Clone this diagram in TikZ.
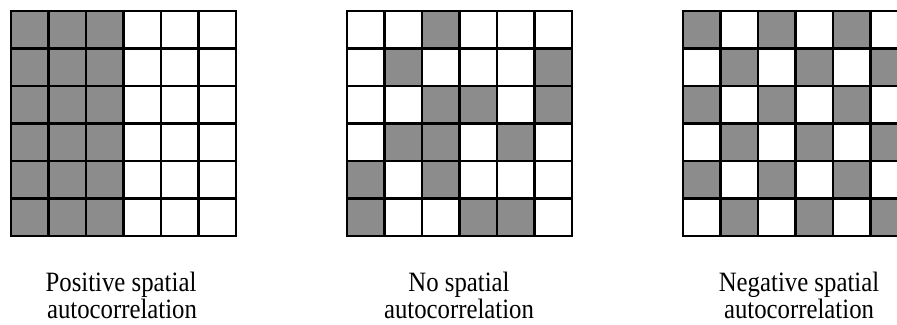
\documentclass[tikz,border=0pt]{standalone}
\usepackage{fontspec}
\setmainfont{Liberation Serif}
\definecolor{cellgray}{RGB}{140,140,140}
\begin{document}
\begin{tikzpicture}[x=1pt,y=-1pt,
  cellbox/.style={fill=cellgray},
  gridline/.style={line width=2.2pt, draw=black, line cap=rect},
  lbl/.style={anchor=base, font=\fontsize{28}{28}\selectfont, inner sep=0pt, xscale=0.885, transform shape}]
\path[use as bounding box, fill=white] (0,0) rectangle (897,324);
\clip (0,0) rectangle (897,324);
\def\cs{37.5}
% Grid 1: positive
\foreach \c in {0,1,2}{\foreach \r in {0,...,5}{
  \fill[cellbox] ({11+\c*\cs},{11+\r*\cs}) rectangle ++(\cs,\cs);}}
\foreach \i in {0,...,6}{
  \draw[gridline] ({11+\i*\cs},11) -- ({11+\i*\cs},236);
  \draw[gridline] (11,{11+\i*\cs}) -- (236,{11+\i*\cs});}
% Grid 2: none
\foreach \c/\r in {2/0,1/1,5/1,2/2,3/2,5/2,1/3,2/3,4/3,0/4,2/4,0/5,3/5,4/5}{
  \fill[cellbox] ({347+\c*\cs},{11+\r*\cs}) rectangle ++(\cs,\cs);}
\foreach \i in {0,...,6}{
  \draw[gridline] ({347+\i*\cs},11) -- ({347+\i*\cs},236);
  \draw[gridline] (347,{11+\i*\cs}) -- (572,{11+\i*\cs});}
% Grid 3: negative
\foreach \c in {0,...,5}{\foreach \r in {0,...,5}{
  \pgfmathparse{int(mod(\c+\r,2))}
  \ifnum\pgfmathresult=0
    \fill[cellbox] ({683+\c*\cs},{11+\r*\cs}) rectangle ++(\cs,\cs);
  \fi}}
\foreach \i in {0,...,6}{
  \draw[gridline] ({683+\i*\cs},11) -- ({683+\i*\cs},236);
  \draw[gridline] (683,{11+\i*\cs}) -- (908,{11+\i*\cs});}
% Labels
\node[lbl] (p1) at (121,291) {Positive spatial};
\node[lbl] (p2) at (122,318) {autocorrelation};
\node[lbl] (n1) at (459,291) {No spatial};
\node[lbl] (n2) at (459,318) {autocorrelation};
\node[lbl] (g1) at (799,291) {Negative spatial};
\node[lbl] (g2) at (799,318) {autocorrelation};
\end{tikzpicture}
\end{document}
